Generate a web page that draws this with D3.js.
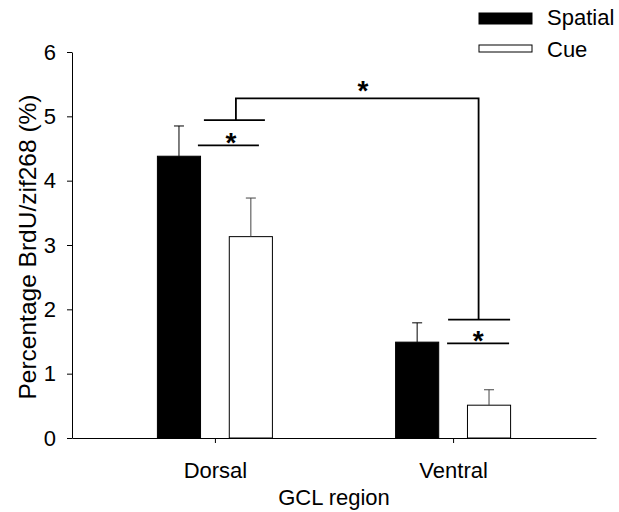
<!DOCTYPE html>
<html>
<head>
<meta charset="utf-8">
<script src="https://cdn.jsdelivr.net/npm/d3@7"></script>
<style>
  body { margin: 0; background: #fff; }
  svg text { font-family: "Liberation Sans", Arial, sans-serif; fill: #000; }
</style>
</head>
<body>
<svg width="619" height="512"></svg>
<script>
// data
const groups = ['Dorsal', 'Ventral'];
const series = ['Spatial', 'Cue'];
const spatialMeans = [4.38, 1.49];
const cueMeans = [3.13, 0.51];
const spatialErr = [0.47, 0.30];
const cueErr = [0.60, 0.24];
const yTicks = [0, 1, 2, 3, 4, 5, 6];

const fills = { Spatial: '#000', Cue: '#fff' };

const rows = [];
groups.forEach((g, i) => {
  rows.push({ group: g, series: 'Spatial', value: spatialMeans[i], err: spatialErr[i] });
  rows.push({ group: g, series: 'Cue', value: cueMeans[i], err: cueErr[i] });
});

const svg = d3.select('svg');

const y = d3.scaleLinear().domain([0, 6]).range([438, 52]);
const x0 = d3.scalePoint().domain(groups).range([72, 596]).padding(0.6);
const x1 = d3.scaleBand().domain(series).range([-57.5, 57.5]).paddingInner(0.4);

// bars
svg.selectAll('rect.bar')
  .data(rows)
  .enter()
  .append('rect')
  .attr('class', 'bar')
  .attr('x', d => x0(d.group) + x1(d.series))
  .attr('y', d => y(d.value))
  .attr('width', x1.bandwidth())
  .attr('height', d => y(0) - y(d.value))
  .attr('fill', d => fills[d.series])
  .attr('stroke', '#000')
  .attr('stroke-width', 1);

// error bars (upper only)
const cx = d => x0(d.group) + x1(d.series) + x1.bandwidth() / 2;
svg.selectAll('line.err')
  .data(rows)
  .enter()
  .append('line')
  .attr('x1', cx).attr('x2', cx)
  .attr('y1', d => y(d.value))
  .attr('y2', d => y(d.value + d.err))
  .attr('stroke', d => d.series === 'Cue' ? '#444' : '#000');
svg.selectAll('line.cap')
  .data(rows)
  .enter()
  .append('line')
  .attr('x1', d => cx(d) - 5).attr('x2', d => cx(d) + 5)
  .attr('y1', d => y(d.value + d.err))
  .attr('y2', d => y(d.value + d.err))
  .attr('stroke', d => d.series === 'Cue' ? '#444' : '#000');

// axes
const yAxis = svg.append('g')
  .attr('transform', 'translate(72,0)')
  .call(d3.axisLeft(y).tickValues(yTicks).tickFormat(d3.format('d')).tickSize(5).tickSizeOuter(0).tickPadding(11));
yAxis.selectAll('text').style('font-size', '22px');

const xAxis = svg.append('g')
  .attr('transform', 'translate(0,438)')
  .call(d3.axisBottom(x0).tickSize(5).tickSizeOuter(0).tickPadding(19));
xAxis.selectAll('text').style('font-size', '22px');

svg.selectAll('.domain, .tick line').attr('stroke', '#000');

svg.append('text')
  .attr('x', 334).attr('y', 505)
  .attr('text-anchor', 'middle')
  .style('font-size', '22px')
  .text('GCL region');

svg.append('text')
  .attr('transform', 'translate(36,247) rotate(-90)')
  .attr('text-anchor', 'middle')
  .style('font-size', '24.5px')
  .text('Percentage BrdU/zif268 (%)');

// significance brackets
const br = svg.append('g').attr('stroke', '#000').attr('stroke-width', 1.8).attr('fill', 'none');
const dX = x0('Dorsal'), vX = x0('Ventral');
// dorsal: spatial vs cue
br.append('line').attr('x1', dX - 17).attr('x2', dX + 44).attr('y1', y(4.55)).attr('y2', y(4.55));
// ventral: spatial vs cue
br.append('line').attr('x1', vX - 6).attr('x2', vX + 56).attr('y1', y(1.47)).attr('y2', y(1.47));
// dorsal vs ventral
br.append('line').attr('x1', dX - 11).attr('x2', dX + 50).attr('y1', y(4.94)).attr('y2', y(4.94));
br.append('line').attr('x1', vX - 5).attr('x2', vX + 57).attr('y1', y(1.84)).attr('y2', y(1.84));
br.append('path')
  .attr('d', `M${dX + 21},${y(4.94)} V${y(5.28)} H${vX + 25.5} V${y(1.84)}`);

const stars = [
  { x: dX + 16, v: 4.55, dy: 7 },
  { x: vX + 25, v: 1.47, dy: 7 },
  { x: (dX + vX) / 2 + 29, v: 5.28, dy: 1.5 }
];
svg.selectAll('text.star')
  .data(stars)
  .enter()
  .append('text')
  .attr('class', 'star')
  .attr('x', d => d.x)
  .attr('y', d => y(d.v) + d.dy)
  .attr('text-anchor', 'middle')
  .style('font-size', '28px')
  .style('font-weight', 'bold')
  .text('*');

// legend
const legendH = { Spatial: 11, Cue: 7 };
const lg = svg.selectAll('g.legend')
  .data(series)
  .enter()
  .append('g')
  .attr('transform', (d, i) => `translate(479,${i * 32})`);
lg.append('rect')
  .attr('x', 0).attr('y', 13)
  .attr('width', 53)
  .attr('height', d => legendH[d])
  .attr('fill', d => fills[d])
  .attr('stroke', '#000')
  .attr('stroke-width', 1);
lg.append('text')
  .attr('x', 68).attr('y', 25)
  .style('font-size', '22px')
  .text(d => d);
</script>
</body>
</html>
